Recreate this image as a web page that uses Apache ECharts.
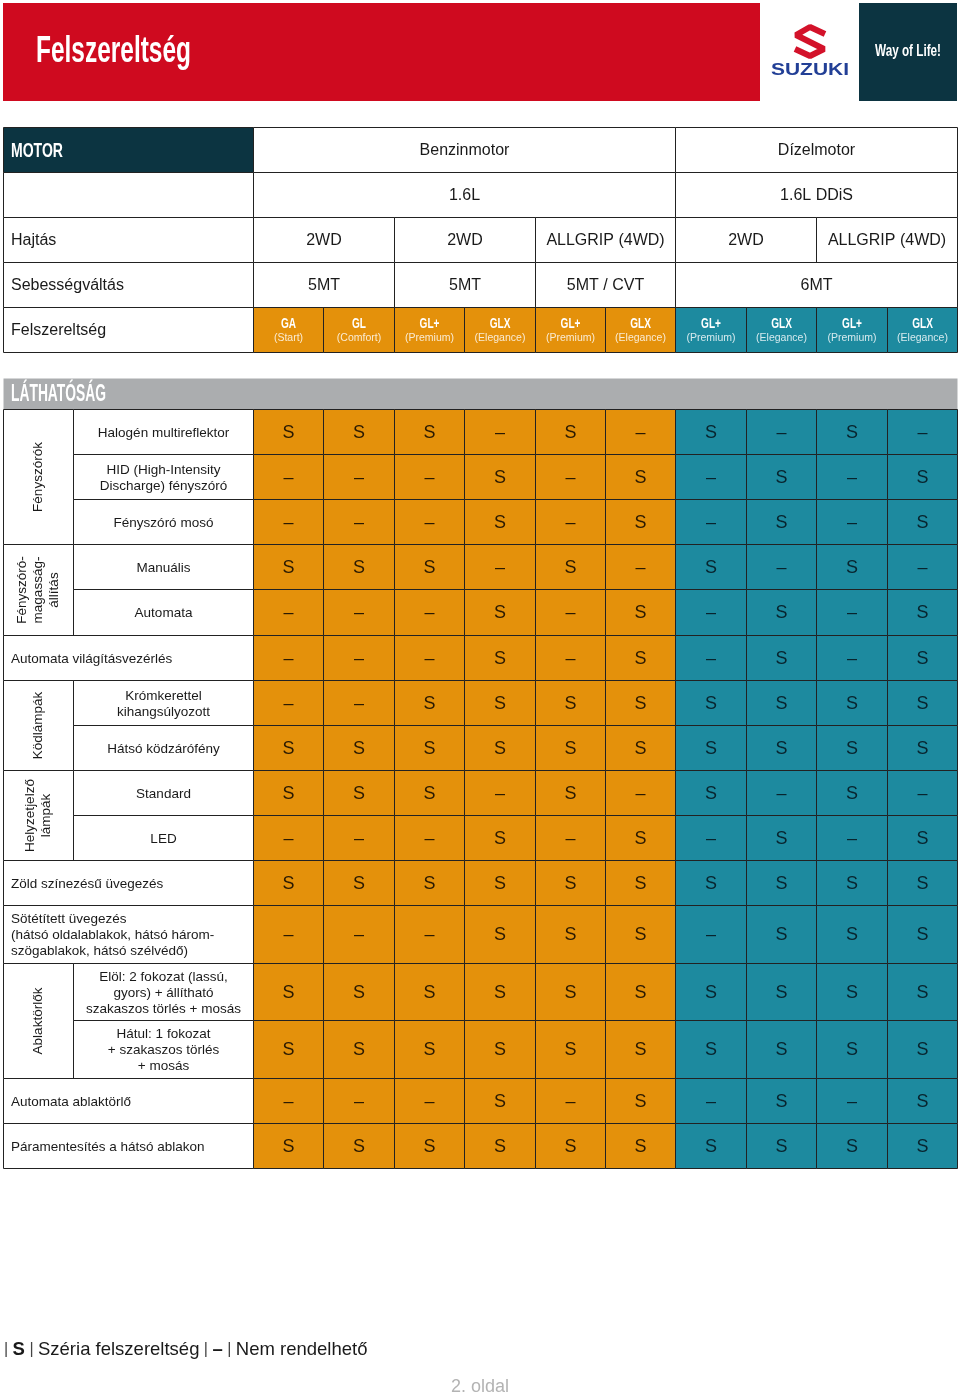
<!DOCTYPE html>
<html><head><meta charset="utf-8">
<script src="https://cdn.jsdelivr.net/npm/echarts@6/dist/echarts.min.js"></script>
<style>html,body{margin:0;padding:0;background:#fff}#c{width:960px;height:1395px}</style>
</head><body><div id="c"></div>
<script>
// ---------------- DATA ----------------
const pageTitle = 'Felszereltség';
const brandName = 'SUZUKI';
const slogan = 'Way of Life!';
const headerLabels = ['MOTOR', '', 'Hajtás', 'Sebességváltás', 'Felszereltség'];
const engineTypes = ['Benzinmotor', 'Dízelmotor'];
const engineSpans = [6, 4];
const displacements = ['1.6L', '1.6L DDiS'];
const displacementSpans = [6, 4];
const drives = ['2WD', '2WD', 'ALLGRIP (4WD)', '2WD', 'ALLGRIP (4WD)'];
const driveSpans = [2, 2, 2, 2, 2];
const gearboxes = ['5MT', '5MT', '5MT / CVT', '6MT'];
const gearboxSpans = [2, 2, 2, 4];
const trimNames = ['GA', 'GL', 'GL+', 'GLX', 'GL+', 'GLX', 'GL+', 'GLX', 'GL+', 'GLX'];
const trimEditions = ['(Start)', '(Comfort)', '(Premium)', '(Elegance)', '(Premium)', '(Elegance)', '(Premium)', '(Elegance)', '(Premium)', '(Elegance)'];
const sectionTitle = 'LÁTHATÓSÁG';
const featureGroups = ['Fényszórók', 'Fényszóró-\nmagasság-\nállítás', 'Ködlámpák', 'Helyzetjelző\nlámpák', 'Ablaktörlők'];
const featureLabels = [
  'Halogén multireflektor',
  'HID (High-Intensity\nDischarge) fényszóró',
  'Fényszóró mosó',
  'Manuális',
  'Automata',
  'Automata világításvezérlés',
  'Krómkerettel\nkihangsúlyozott',
  'Hátsó ködzárófény',
  'Standard',
  'LED',
  'Zöld színezésű üvegezés',
  'Sötétített üvegezés\n(hátsó oldalablakok, hátsó három-\nszögablakok, hátsó szélvédő)',
  'Elöl: 2 fokozat (lassú,\ngyors) + állítható\nszakaszos törlés + mosás',
  'Hátul: 1 fokozat\n+ szakaszos törlés\n+ mosás',
  'Automata ablaktörlő',
  'Páramentesítés a hátsó ablakon'
];
const featureGroupOf = [0, 0, 0, 1, 1, null, 2, 2, 3, 3, null, null, 4, 4, null, null];
const availability = [
  ['S','S','S','–','S','–','S','–','S','–'],
  ['–','–','–','S','–','S','–','S','–','S'],
  ['–','–','–','S','–','S','–','S','–','S'],
  ['S','S','S','–','S','–','S','–','S','–'],
  ['–','–','–','S','–','S','–','S','–','S'],
  ['–','–','–','S','–','S','–','S','–','S'],
  ['–','–','S','S','S','S','S','S','S','S'],
  ['S','S','S','S','S','S','S','S','S','S'],
  ['S','S','S','–','S','–','S','–','S','–'],
  ['–','–','–','S','–','S','–','S','–','S'],
  ['S','S','S','S','S','S','S','S','S','S'],
  ['–','–','–','S','S','S','–','S','S','S'],
  ['S','S','S','S','S','S','S','S','S','S'],
  ['S','S','S','S','S','S','S','S','S','S'],
  ['–','–','–','S','–','S','–','S','–','S'],
  ['S','S','S','S','S','S','S','S','S','S']
];
const legendStd = 'S', legendStdText = 'Széria felszereltség';
const legendNa = '–', legendNaText = 'Nem rendelhető';
const pageNumber = '2. oldal';

// ---------------- LAYOUT / STYLE ----------------
const FONT = '"Liberation Sans", Arial, sans-serif';
const RED = '#cf0a1f', DARK = '#0c3441', ORANGE = '#e4910b', TEAL = '#1d8a9f', GRAY = '#abadaf', LINE = '#222';
const TABLE_LEFT = 3, TABLE_TOP = 127, TABLE_W = 954;
const LABEL_W = 250, GROUP_W = 70;
const HEAD_H = 45, GAP_H = 26, SECTION_H = 31, ROW_H = 45.1, TALL_H = 57.6;

const nCols = trimNames.length;
const colW = (TABLE_W - LABEL_W) / nCols;
const L = LABEL_W / colW, G = GROUP_W / colW;

const mctx = document.createElement('canvas').getContext('2d');
function fitScale(text, font, target) { mctx.font = font; return target / mctx.measureText(text).width; }

// column colour by engine type
const colEngine = [];
engineSpans.forEach((s, i) => { for (let k = 0; k < s; k++) colEngine.push(i); });
const engineColors = [ORANGE, TEAL];
const engineTextColors = ['#2b1a02', '#08242e'];

// ---------------- BUILD CELLS ----------------
const items = [];
function cell(x0, x1, y0, y1, opt) { items.push(Object.assign({ x0, x1, y0, y1 }, opt)); }

const headerSpanRows = [[engineTypes, engineSpans], [displacements, displacementSpans], [drives, driveSpans], [gearboxes, gearboxSpans]];
for (let r = 0; r < headerLabels.length; r++) {
  const y0 = r * HEAD_H, y1 = y0 + HEAD_H;
  if (r === 0) cell(-L, 0, y0, y1, { fill: DARK, kind: 'motor', text: headerLabels[r] });
  else cell(-L, 0, y0, y1, { fill: '#fff', kind: 'headLeft', text: headerLabels[r] });
  if (r < headerSpanRows.length) {
    const [names, spans] = headerSpanRows[r];
    let c = 0;
    names.forEach((n, i) => { cell(c, c + spans[i], y0, y1, { fill: '#fff', kind: 'head', text: n }); c += spans[i]; });
  } else {
    trimNames.forEach((n, j) => cell(j, j + 1, y0, y1, { fill: engineColors[colEngine[j]], kind: 'trim', name: n, edition: trimEditions[j] }));
  }
}
const sectionTop = headerLabels.length * HEAD_H + GAP_H;
cell(-L, nCols, sectionTop, sectionTop + SECTION_H, { fill: GRAY, stroke: null, kind: 'section', text: sectionTitle });

let yy = sectionTop + SECTION_H;
const rowTop = [], rowBot = [];
featureLabels.forEach((lab, i) => {
  const h = lab.split('\n').length >= 3 ? TALL_H : ROW_H;
  rowTop.push(yy); rowBot.push(yy + h); yy += h;
});
const totalH = yy;
featureGroups.forEach((g, gi) => {
  const rows = featureGroupOf.map((v, i) => v === gi ? i : -1).filter(i => i >= 0);
  cell(-L, -L + G, rowTop[rows[0]], rowBot[rows[rows.length - 1]], { fill: '#fff', kind: 'group', text: g });
});
featureLabels.forEach((lab, i) => {
  if (featureGroupOf[i] === null) cell(-L, 0, rowTop[i], rowBot[i], { fill: '#fff', kind: 'label', text: lab });
  else cell(-L + G, 0, rowTop[i], rowBot[i], { fill: '#fff', kind: 'sublabel', text: lab });
  availability[i].forEach((v, j) => cell(j, j + 1, rowTop[i], rowBot[i], { fill: engineColors[colEngine[j]], kind: 'value', text: v, color: engineTextColors[colEngine[j]] }));
});

// ---------------- RENDER ----------------
const trimScale = 0.72;
function renderItem(params, api) {
  const it = items[params.dataIndex];
  const a = api.coord([it.x0, it.y0]), b = api.coord([it.x1, it.y1]);
  const X0 = Math.round(a[0]), Y0 = Math.round(a[1]), X1 = Math.round(b[0]), Y1 = Math.round(b[1]);
  const cx = (X0 + X1) / 2 + 0.5, cy = (Y0 + Y1) / 2 + 0.5;
  const ch = [{ type: 'rect', shape: { x: X0 + 0.5, y: Y0 + 0.5, width: X1 - X0, height: Y1 - Y0 },
    style: { fill: it.fill, stroke: it.stroke === undefined ? LINE : it.stroke, lineWidth: 1 } }];
  const txt = (x, y, style, extra) => ch.push(Object.assign({ type: 'text', x, y, style: Object.assign({ fontFamily: FONT, verticalAlign: 'middle' }, style) }, extra || {}));
  switch (it.kind) {
    case 'motor': {
      const f = 'bold 21px ' + FONT;
      txt(X0 + 8, cy + 1, { text: it.text, fill: '#fff', fontSize: 21, fontWeight: 'bold', align: 'left' }, { scaleX: fitScale(it.text, f, 52) });
      break; }
    case 'headLeft': txt(X0 + 8, cy + 1, { text: it.text, fill: '#1a1a1a', fontSize: 16, align: 'left' }); break;
    case 'head': txt(cx, cy + 1, { text: it.text, fill: '#1a1a1a', fontSize: 16, align: 'center' }); break;
    case 'trim':
      txt(cx, cy - 5.5, { text: it.name, fill: '#fff', fontSize: 14, fontWeight: 'bold', align: 'center' }, { scaleX: trimScale });
      txt(cx, cy + 8.5, { text: it.edition, fill: 'rgba(255,255,255,0.82)', fontSize: 10.5, align: 'center' });
      break;
    case 'section': {
      const f = 'bold 23px ' + FONT;
      txt(X0 + 8, cy + 1, { text: it.text, fill: '#fff', fontSize: 23, fontWeight: 'bold', align: 'left' }, { scaleX: fitScale(it.text, f, 95) });
      break; }
    case 'label': txt(X0 + 8, cy + 1, { text: it.text, fill: '#1a1a1a', fontSize: 13.5, lineHeight: 16, align: 'left' }); break;
    case 'sublabel': txt(cx, cy + 1, { text: it.text, fill: '#1a1a1a', fontSize: 13.5, lineHeight: 16, align: 'center' }); break;
    case 'group': txt(cx, cy, { text: it.text, fill: '#1a1a1a', fontSize: 13.5, lineHeight: 16, align: 'center' }, { rotation: Math.PI / 2 }); break;
    case 'value': txt(cx, cy + 1, { text: it.text, fill: it.color, fontSize: 18, align: 'center' }); break;
  }
  return { type: 'group', children: ch };
}

// ---------------- DECORATION ----------------
const titleFont = 'bold 37px ' + FONT;
const sloganFont = 'bold 16px ' + FONT;
const brandFont = 'bold 16px ' + FONT;
const graphic = [
  { type: 'rect', shape: { x: 3, y: 3, width: 757, height: 98 }, style: { fill: RED } },
  { type: 'text', x: 36, y: 52, scaleX: fitScale(pageTitle, titleFont, 155),
    style: { text: pageTitle, fill: '#fff', font: titleFont, align: 'left', verticalAlign: 'middle' } },
  { type: 'polyline', shape: { points: [[825, 34], [810, 27], [796, 35], [824, 49], [810, 56], [795, 49]] },
    style: { stroke: '#d3122a', lineWidth: 6, fill: null, lineJoin: 'bevel', lineCap: 'butt' } },
  { type: 'text', x: 810, y: 71, scaleX: fitScale(brandName, brandFont, 78),
    style: { text: brandName, fill: '#223f96', font: brandFont, align: 'center', verticalAlign: 'middle' } },
  { type: 'rect', shape: { x: 859, y: 3, width: 98, height: 98 }, style: { fill: DARK } },
  { type: 'text', x: 908, y: 52, scaleX: fitScale(slogan, sloganFont, 66),
    style: { text: slogan, fill: '#fff', font: sloganFont, align: 'center', verticalAlign: 'middle' } },
  { type: 'text', x: 4, y: 1350, style: {
      text: '{p|| }{b|' + legendStd + '}{p| | }' + legendStdText + '{p| | }{b|' + legendNa + '}{p| | }' + legendNaText,
      fill: '#1a1a1a', fontSize: 18.5, fontFamily: FONT, verticalAlign: 'middle', align: 'left',
      rich: { p: { fill: '#444', fontSize: 16, fontFamily: FONT }, b: { fill: '#1a1a1a', fontSize: 18.5, fontWeight: 'bold', fontFamily: FONT } } } },
  { type: 'text', x: 480, y: 1387, style: { text: pageNumber, fill: '#b3b3b3', fontSize: 18, fontFamily: FONT, align: 'center', verticalAlign: 'middle' } }
];

const chart = echarts.init(document.getElementById('c'), null, { renderer: 'canvas' });
chart.setOption({
  animation: false,
  backgroundColor: '#fff',
  grid: { left: TABLE_LEFT, top: TABLE_TOP, width: TABLE_W, height: totalH },
  xAxis: { type: 'value', min: -L, max: nCols, show: false },
  yAxis: { type: 'value', min: 0, max: totalH, inverse: true, show: false },
  graphic: graphic,
  series: [{ type: 'custom', coordinateSystem: 'cartesian2d', silent: true, clip: false,
    data: items.map(it => [it.x0, it.y0]), encode: { x: 0, y: 1 }, renderItem: renderItem }]
});
</script></body></html>
